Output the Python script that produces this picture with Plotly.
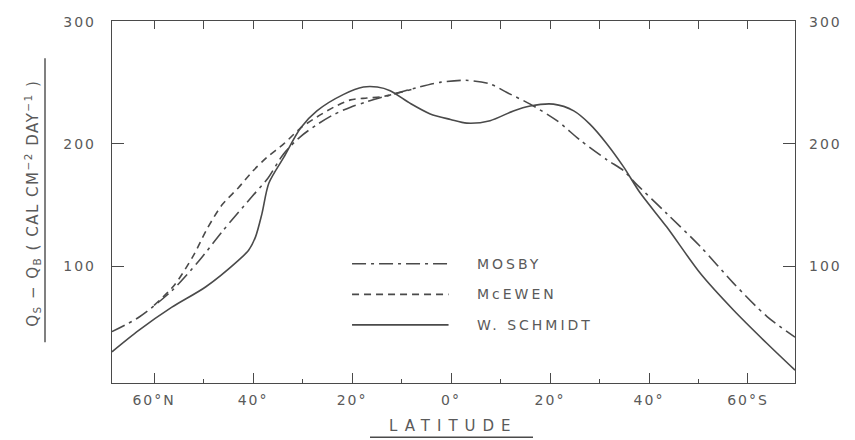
import plotly.graph_objects as go

# ---- data (latitude: negative = North, positive = South) ----
mosby_lat = [-68.5, -63, -56.4, -51, -46.3, -40.2, -37, -33.8, -30.4, -27, -23.7, -20.3, -17, -12.3,
             -6.9, -2, 3, 7.9, 11.3, 16, 21.4, 26.1, 31.5, 34.9, 37, 43.6, 50.4, 57.1, 63.8, 69.5]
mosby_val = [46.5, 58.5, 80, 104, 128, 157, 172, 192, 206, 216, 224, 230, 234.5, 240,
             246, 250.5, 252, 249, 242, 232.5, 219, 203, 187, 178, 169, 143, 116, 86, 59, 42]

mcewen_lat = [-60, -56, -52, -49.5, -46.3, -43, -40, -37.2, -33.8, -30.4, -27.1, -23.7, -20.3,
              -17, -14, -12.3, -8]
mcewen_val = [68, 84, 109, 129, 150, 164, 178, 189, 200, 213, 222, 230, 236,
              237.5, 238.5, 240, 244.5]

schmidt_lat = [-68.5, -63.1, -56.4, -49.6, -42.9, -40.9, -39.5, -38.2, -36.8, -33.8, -30.4, -27.1,
               -21.7, -17.7, -14.9, -12.3, -8.2, -4.2, -0.1, 3.2, 7.9, 12.6, 16, 20.7, 24.8, 28.1,
               31.5, 34.9, 38.2, 43.6, 50.4, 57.1, 63.8, 69.5]
schmidt_val = [30, 47.5, 66.5, 83, 105, 113, 124, 143, 168, 189, 213, 227,
               240.5, 246.5, 246.5, 243.5, 233, 224.5, 220, 217, 219, 227, 231, 232.5, 227, 216,
               200, 181, 160, 132, 94, 64, 37, 15]

series_names = ["MOSBY", "McEWEN", "W. SCHMIDT"]

x_tickvals = [-60, -40, -20, 0, 20, 40, 60]
x_ticktext = ["60°N", "40°", "20°", "0°", "20°", "40°", "60°S"]
y_tickvals = [100, 200, 300]
y_ticktext = ["100", "200", "300"]

# ---- styling ----
LINE = "#4a4a4a"
TEXT = "#5a5a5a"
FONT = "DejaVu Sans"
dashes = ["14px,5px,3px,5px", "7px,5px", "solid"]

X_RANGE = [-68.5, 69.5]
Y_RANGE = [4.5, 300.5]

fig = go.Figure()
for lat, val, name, dash in zip([mosby_lat, mcewen_lat, schmidt_lat],
                                [mosby_val, mcewen_val, schmidt_val],
                                series_names, dashes):
    fig.add_trace(go.Scatter(x=lat, y=val, mode="lines", name=name,
                             line=dict(color=LINE, width=1.6, dash=dash, shape="spline", smoothing=0.8),
                             showlegend=False, hoverinfo="skip"))

# invisible trace to create top/right axes
fig.add_trace(go.Scatter(x=[0], y=[100], xaxis="x2", yaxis="y2", mode="markers",
                         marker=dict(opacity=0), showlegend=False, hoverinfo="skip"))

axis_font = dict(family=FONT, size=14, color=TEXT)

fig.update_layout(
    width=855, height=440, autosize=False,
    margin=dict(l=112, r=60, t=21, b=57),
    paper_bgcolor="white", plot_bgcolor="white",
    xaxis=dict(range=X_RANGE, tickmode="array", tickvals=x_tickvals, ticktext=x_ticktext,
               ticks="inside", ticklen=10, tickwidth=1.3, tickcolor=LINE, automargin=False,
               showline=True, linecolor=LINE, linewidth=1.4, showgrid=False, zeroline=False,
               tickfont=axis_font, ticklabelstandoff=4,
               minor=dict(tickvals=[-50, -30, -10, 10, 30, 50], ticks="inside", ticklen=4,
                          tickcolor=LINE, tickwidth=1.3, showgrid=False)),
    xaxis2=dict(range=X_RANGE, overlaying="x", side="top", tickmode="array",
                tickvals=[-60, -50, -40, -30, -20, -10, 0, 10, 20, 30, 40, 50, 60],
                ticks="inside", ticklen=8, tickwidth=1.3, tickcolor=LINE, showticklabels=False,
                automargin=False,
                showline=True, linecolor=LINE, linewidth=1.4, showgrid=False, zeroline=False),
    yaxis=dict(range=Y_RANGE, tickmode="array", tickvals=y_tickvals, ticktext=y_ticktext,
               ticks="inside", ticklen=12, tickwidth=1.3, tickcolor=LINE, automargin=False,
               showline=True, linecolor=LINE, linewidth=1.4, showgrid=False, zeroline=False,
               tickfont=axis_font, ticklabelstandoff=12),
    yaxis2=dict(range=Y_RANGE, overlaying="y", side="right", tickmode="array",
                tickvals=y_tickvals, ticktext=y_ticktext, automargin=False,
                ticks="inside", ticklen=12, tickwidth=1.3, tickcolor=LINE,
                showline=True, linecolor=LINE, linewidth=1.4, showgrid=False, zeroline=False,
                tickfont=axis_font, ticklabelstandoff=10),
)

# ---- manual legend ----
leg_y = [102, 77, 52]
for name, dash, yv in zip(series_names, dashes, leg_y):
    fig.add_shape(type="line", xref="x", yref="y", x0=-20, x1=-0.5, y0=yv, y1=yv,
                  line=dict(color=LINE, width=1.6, dash=dash))
    fig.add_annotation(x=4.8, y=yv, xref="x", yref="y", text=name, showarrow=False,
                       xanchor="left", yanchor="middle",
                       font=dict(family=FONT, size=14, color=TEXT))

# ---- axis titles with underline ----
fig.add_annotation(xref="paper", yref="paper", x=(32 - 112) / 683, y=(382.7 - 203) / 362,
                   text="Q<sub>S</sub> − Q<sub>B</sub> ( CAL CM<sup>−2</sup> DAY<sup>−1</sup> )",
                   textangle=-90, showarrow=False, xanchor="center", yanchor="middle",
                   font=dict(family=FONT, size=15, color=TEXT))
fig.add_shape(type="line", xref="paper", yref="paper",
              x0=(45 - 112) / 683, x1=(45 - 112) / 683,
              y0=(382.7 - 58) / 362, y1=(382.7 - 342) / 362,
              line=dict(color=LINE, width=1.4))

fig.add_annotation(xref="paper", yref="paper", x=(453 - 112) / 683, y=(382.7 - 426) / 362,
                   text="LATITUDE", showarrow=False, xanchor="center", yanchor="middle",
                   font=dict(family=FONT, size=15, color=TEXT))
fig.add_shape(type="line", xref="paper", yref="paper",
              x0=(370 - 112) / 683, x1=(533 - 112) / 683,
              y0=(382.7 - 437) / 362, y1=(382.7 - 437) / 362,
              line=dict(color=LINE, width=1.4))

post = """
document.body.style.margin='0';document.body.style.overflow='hidden';
var ann = document.querySelectorAll('.annotation-text');
var sp = ['3px','3px','3px','1.5px','7px'];
ann.forEach(function(t, i){
  if (!sp[i]) return;
  var before = t.getBBox().x;
  t.style.letterSpacing = sp[i];
  if (i < 3) {
    var after = t.getBBox().x;
    var x0 = parseFloat(t.getAttribute('x')) || 0;
    t.setAttribute('x', x0 + (before - after));
  }
});
document.querySelectorAll('.xtick text, .ytick text, .y2tick text').forEach(function(t){
  t.style.letterSpacing = '2px';
});
"""
fig.write_html("out.html", config={"displayModeBar": False}, post_script=post)
